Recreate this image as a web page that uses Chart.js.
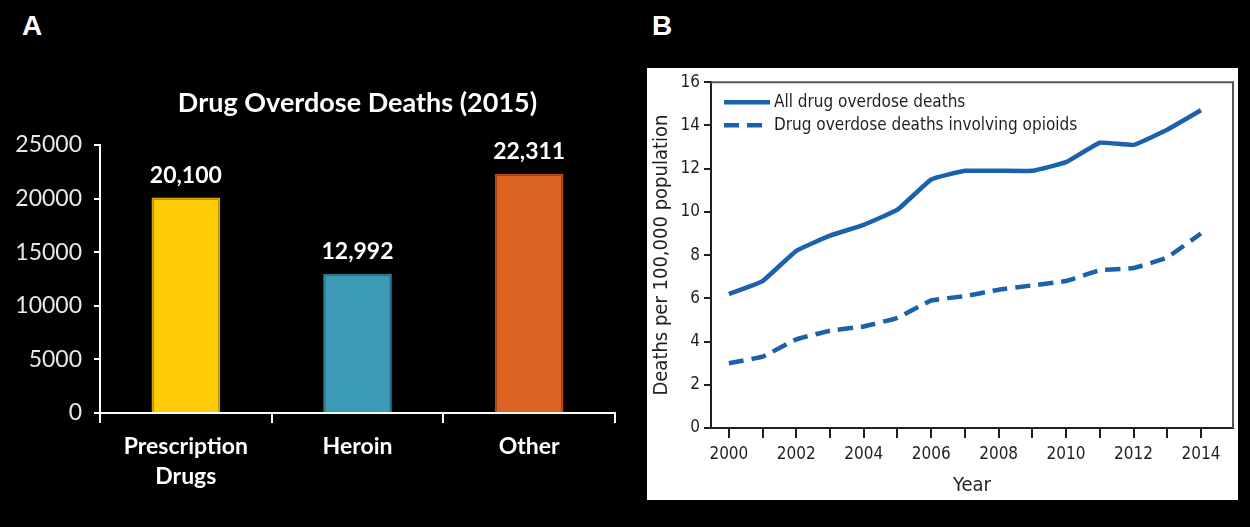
<!DOCTYPE html>
<html>
<head>
<meta charset="utf-8">
<script src="https://cdn.jsdelivr.net/npm/chart.js@4.4.1/dist/chart.umd.min.js"></script>
<style>
  body { margin: 0; background: #000; width: 1250px; height: 527px; overflow: hidden; position: relative; }
  .tag { position: absolute; top: 11px; color: #fff; font: bold 28px/29px "Liberation Sans", Arial, sans-serif; }
  #boxB { position: absolute; left: 647px; top: 68px; width: 591px; height: 432px; background: #fff; }
  #canvasA { position: absolute; left: 0; top: 0; }
  #canvasB { position: absolute; left: 0; top: 0; }
</style>
</head>
<body>
<div class="tag" style="left:22px">A</div>
<div class="tag" style="left:652px">B</div>
<canvas id="canvasA" width="640" height="527"></canvas>
<div id="boxB"><canvas id="canvasB" width="591" height="432"></canvas></div>
<script>
// panel A
var barLabels = [['Prescription', 'Drugs'], 'Heroin', 'Other'];
var barValues = [20100, 12992, 22311];
var barColors = ['#fecb05', '#3d9bb5', '#dc6221'];
var barEdges = ['#d9a800', '#2f7f96', '#b44d17'];

// panel B
var years = [2000, 2001, 2002, 2003, 2004, 2005, 2006, 2007, 2008, 2009, 2010, 2011, 2012, 2013, 2014];
var allDeaths = [6.2, 6.8, 8.2, 8.9, 9.4, 10.1, 11.5, 11.9, 11.9, 11.9, 12.3, 13.2, 13.1, 13.8, 14.7];
var opioidDeaths = [3.0, 3.3, 4.1, 4.5, 4.7, 5.1, 5.9, 6.1, 6.4, 6.6, 6.8, 7.3, 7.4, 7.9, 9.0];

var blue = '#1b61ab';
var ink = '#231f20';
var narrow = '"Liberation Sans Narrow", "DejaVu Sans Condensed", sans-serif';

var valueLabels = {
  id: 'valueLabels',
  afterDatasetsDraw: function(chart) {
    var ctx = chart.ctx;
    var meta = chart.getDatasetMeta(0);
    ctx.save();
    ctx.fillStyle = '#fff';
    ctx.font = 'bold 23px Lato, sans-serif';
    ctx.textAlign = 'center';
    ctx.textBaseline = 'middle';
    meta.data.forEach(function(bar, i) {
      ctx.fillText(barValues[i].toLocaleString('en-US'), bar.x, bar.y - 22);
    });
    ctx.restore();
  }
};

new Chart(document.getElementById('canvasA').getContext('2d'), {
  type: 'bar',
  data: {
    labels: barLabels,
    datasets: [{
      data: barValues,
      backgroundColor: barColors,
      borderColor: barEdges,
      borderWidth: 2,
      categoryPercentage: 1,
      barPercentage: 0.4
    }]
  },
  options: {
    responsive: false,
    animation: false,
    layout: { padding: { left: 0, right: 25, top: 0, bottom: 0 } },
    plugins: {
      legend: { display: false },
      tooltip: { enabled: false },
      title: {
        display: true,
        fullSize: false,
        text: 'Drug Overdose Deaths (2015)',
        color: '#fff',
        font: { family: 'Lato, sans-serif', size: 27, weight: 'bold' },
        padding: { top: 86.8, bottom: 25.8 }
      }
    },
    scales: {
      x: {
        afterFit: function(s) { s.height = 114; },
        border: { color: '#fff', width: 2 },
        grid: { drawOnChartArea: false, color: '#fff', tickLength: 10, lineWidth: 2 },
        ticks: { color: '#fff', padding: 9, font: { family: 'Lato, sans-serif', size: 23, weight: 'bold', lineHeight: 1.3 } }
      },
      y: {
        min: 0,
        max: 25000,
        afterFit: function(s) { s.width = 100; },
        border: { color: '#fff', width: 2 },
        grid: { drawOnChartArea: false, color: '#fff', tickLength: 6, lineWidth: 2 },
        ticks: {
          stepSize: 5000,
          color: '#e8e8e8',
          padding: 12,
          font: { family: 'Lato, sans-serif', size: 23 },
          callback: function(v) { return String(v); }
        }
      }
    }
  },
  plugins: [valueLabels]
});

var frameAndLegend = {
  id: 'frameAndLegend',
  afterDraw: function(chart) {
    var ctx = chart.ctx;
    var a = chart.chartArea;
    ctx.save();
    ctx.strokeStyle = '#555';
    ctx.lineWidth = 2;
    ctx.beginPath();
    ctx.moveTo(a.left, a.top);
    ctx.lineTo(a.right, a.top);
    ctx.lineTo(a.right, a.bottom);
    ctx.stroke();

    ctx.font = '17px ' + narrow;
    ctx.textBaseline = 'middle';
    ctx.fillStyle = ink;
    chart.data.datasets.forEach(function(ds, i) {
      var y = a.top + 20 + i * 23;
      ctx.strokeStyle = ds.borderColor;
      ctx.lineWidth = ds.borderWidth;
      ctx.setLineDash(ds.borderDash || []);
      ctx.beginPath();
      ctx.moveTo(a.left + 13, y);
      ctx.lineTo(a.left + 59, y);
      ctx.stroke();
      ctx.setLineDash([]);
      ctx.fillText(ds.label, a.left + 63, y);
    });
    ctx.restore();
  }
};

new Chart(document.getElementById('canvasB').getContext('2d'), {
  type: 'line',
  data: {
    datasets: [{
      label: 'All drug overdose deaths',
      data: years.map(function(yr, i) { return { x: yr, y: allDeaths[i] }; }),
      borderColor: blue,
      borderWidth: 4.5,
      pointRadius: 0,
      tension: 0.1
    }, {
      label: 'Drug overdose deaths involving opioids',
      data: years.map(function(yr, i) { return { x: yr, y: opioidDeaths[i] }; }),
      borderColor: blue,
      borderWidth: 4.5,
      borderDash: [15, 8],
      pointRadius: 0,
      tension: 0.1
    }]
  },
  options: {
    responsive: false,
    animation: false,
    layout: { padding: { left: 0, right: 5, top: 10, bottom: 0 } },
    plugins: { legend: { display: false }, tooltip: { enabled: false } },
    scales: {
      x: {
        type: 'linear',
        min: 1999.47,
        max: 2014.95,
        afterFit: function(s) { s.height = 72; },
        afterBuildTicks: function(s) { s.ticks = years.map(function(v) { return { value: v }; }); },
        border: { color: ink, width: 2 },
        grid: { drawOnChartArea: false, color: ink, tickLength: 10, lineWidth: 2 },
        ticks: {
          autoSkip: false,
          maxRotation: 0,
          color: ink,
          padding: 6,
          font: { family: narrow, size: 17 },
          callback: function(v) { return v % 2 === 0 ? String(v) : ''; }
        },
        title: { display: true, text: 'Year', color: ink, font: { family: narrow, size: 20 }, padding: { top: 0, bottom: 2 } }
      },
      y: {
        min: 0,
        max: 16,
        afterFit: function(s) { s.width = 64; },
        border: { color: ink, width: 2 },
        grid: { drawOnChartArea: false, color: ink, tickLength: 7, lineWidth: 2 },
        ticks: { stepSize: 2, color: ink, padding: 4, font: { family: narrow, size: 17 } },
        title: { display: true, text: 'Deaths per 100,000 population', color: ink, font: { family: narrow, size: 20 }, padding: { top: 3, bottom: 0 } }
      }
    }
  },
  plugins: [frameAndLegend]
});
</script>
</body>
</html>
